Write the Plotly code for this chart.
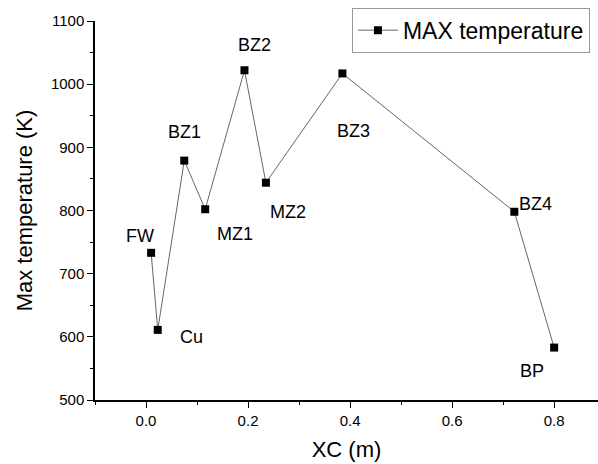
import plotly.graph_objects as go

labels = ["FW", "Cu", "BZ1", "MZ1", "BZ2", "MZ2", "BZ3", "BZ4", "BP"]
xc = [0.010, 0.023, 0.075, 0.116, 0.193, 0.235, 0.385, 0.722, 0.800]
tmax = [733, 611, 879, 802, 1022, 844, 1017, 798, 583]
# label offsets in pixels (dx, dy up)
offsets = [(-11, 17), (34, -7), (0, 29), (30, -25), (10, 25), (22, -29), (11, -58), (21, 8), (-22, -23)]

font = "Liberation Sans, Arial, sans-serif"

fig = go.Figure()
fig.add_trace(go.Scatter(
    x=xc, y=tmax, mode="lines+markers", name="MAX temperature",
    line=dict(color="#555555", width=0.9),
    marker=dict(symbol="square", size=8, color="black"),
))

for lab, x, y, (dx, dy) in zip(labels, xc, tmax, offsets):
    fig.add_annotation(x=x, y=y, xref="x", yref="y", text=lab, showarrow=False,
                       xshift=dx, yshift=dy, font=dict(size=18, color="black", family=font))

fig.update_layout(
    width=598, height=464,
    margin=dict(l=95, r=0, t=21, b=64, autoexpand=False),
    paper_bgcolor="white", plot_bgcolor="white",
    font=dict(family=font, color="black"),
    showlegend=True,
    legend=dict(x=0.984, y=1.035, xanchor="right", yanchor="top",
                bordercolor="#999999", borderwidth=1, bgcolor="white",
                font=dict(size=23, family=font), itemwidth=40,
                tracegroupgap=0),
    xaxis=dict(range=[-0.1, 0.886], tick0=0, dtick=0.2, tickformat=".1f",
               showgrid=False, zeroline=False, showline=True, linecolor="black", linewidth=1.5,
               ticks="outside", ticklen=6, tickwidth=1.2, tickcolor="black",
               minor=dict(dtick=0.1, tick0=0, ticks="outside", ticklen=3, tickwidth=1.2, tickcolor="black"),
               tickfont=dict(size=15), title=dict(text="XC (m)", font=dict(size=22), standoff=14)),
    yaxis=dict(range=[500, 1100], tick0=500, dtick=100,
               showgrid=False, zeroline=False, showline=True, linecolor="black", linewidth=1.5,
               ticks="outside", ticklen=6, tickwidth=1.2, tickcolor="black",
               minor=dict(dtick=50, ticks="outside", ticklen=3, tickwidth=1.2, tickcolor="black"),
               tickfont=dict(size=15), title=dict(text="Max temperature (K)", font=dict(size=22), standoff=12)),
)

fig.write_html("out.html", config={"displayModeBar": False},
               post_script="document.body.style.margin='0';document.body.style.overflow='hidden';")
